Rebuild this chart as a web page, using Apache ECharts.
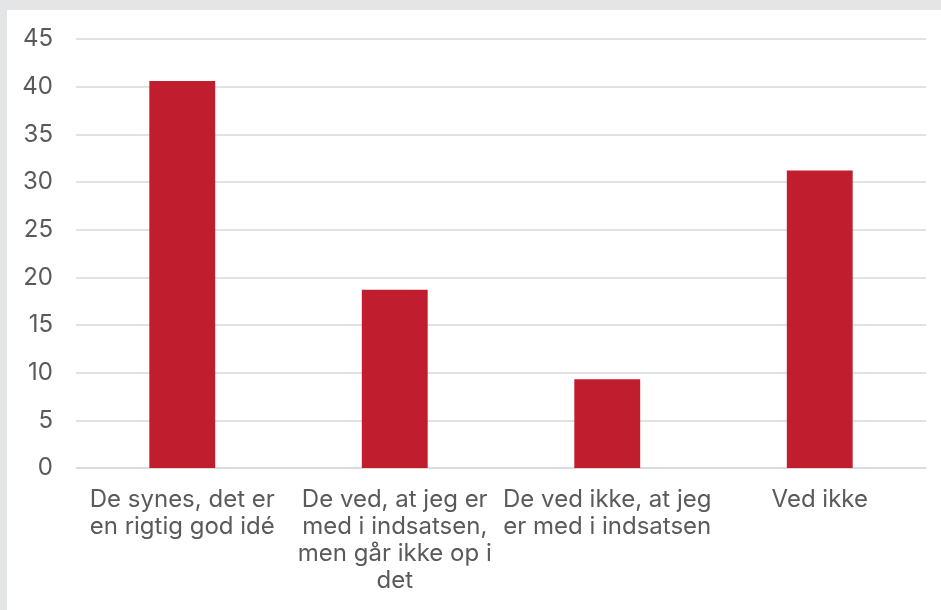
<!DOCTYPE html>
<html>
<head>
<meta charset="utf-8">
<script src="https://cdn.jsdelivr.net/npm/echarts@6/dist/echarts.min.js"></script>
<style>
  html, body { margin: 0; padding: 0; background: #e4e5e7; }
  #wrap { position: relative; width: 941px; height: 610px; background: #e4e5e7; overflow: hidden; }
  #chart { position: absolute; left: 7px; top: 10px; width: 934px; height: 600px; background: #ffffff; }
</style>
</head>
<body>
<div id="wrap"><div id="chart"></div></div>
<script>
// kategorier og værdier
const categories = [
  "De synes, det er\nen rigtig god idé",
  "De ved, at jeg er\nmed i indsatsen,\nmen går ikke op i\ndet",
  "De ved ikke, at jeg\ner med i indsatsen",
  "Ved ikke"
];
const values = [40.6, 18.7, 9.3, 31.2];

const myChart = echarts.init(document.querySelector("#chart"));
const option = {
  animation: false,
  grid: {
    left: 69,
    right: 15,
    top: 29,
    bottom: 142,
  },
  xAxis: {
    type: "category",
    data: categories,
    axisLine: { show: true, lineStyle: { color: "#d9d9d9", width: 1.5 } },
    axisTick: { show: false },
    axisLabel: {
      interval: 0,
      color: "#5a5a5a",
      fontFamily: "Inter",
      fontSize: 24,
      lineHeight: 27,
      margin: 18,
    },
  },
  yAxis: {
    type: "value",
    min: 0,
    max: 45,
    interval: 5,
    axisLine: { show: false },
    axisTick: { show: false },
    splitLine: { lineStyle: { color: "#d9d9d9", width: 1.5 } },
    axisLabel: {
      color: "#5a5a5a",
      fontFamily: "Inter",
      fontSize: 24,
      margin: 23,
    },
  },
  series: [
    {
      type: "bar",
      data: values,
      barWidth: "31%",
      itemStyle: { color: "#c01e2f" },
    },
  ],
};
myChart.setOption(option);
</script>
</body>
</html>
